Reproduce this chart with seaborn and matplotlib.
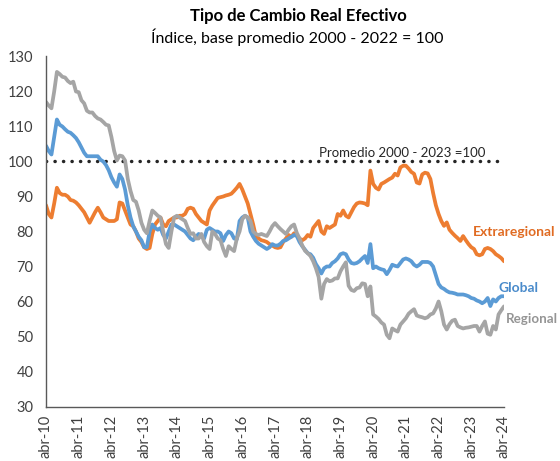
import matplotlib
matplotlib.use("Agg")
import matplotlib.pyplot as plt
import numpy as np
import pandas as pd
import seaborn as sns

# Monthly real effective exchange rate indices, Apr-2010 .. Apr-2024
global_idx = [
    104.5, 103, 102, 107, 112, 110.5, 110, 109.2, 108.5, 108.2, 107.5, 106.7,
    105.5, 104, 102.5, 101.5, 101.5, 101.5, 101.5, 101.5, 100.5, 100, 99, 97.5,
    95.5, 94, 92.8, 96.3, 95, 92, 87.5, 84, 81.5, 80, 78.5, 77.5,
    75.5, 75.5, 80, 82, 81, 80.5, 81, 79, 78, 80, 82, 82,
    81.5, 81, 80.5, 80, 79, 78, 77.5, 78.5, 79.3, 78.5, 78, 80.5,
    81, 80.5, 80, 80, 79.5, 77.3, 79, 80, 79.5, 78, 77.8, 83,
    84, 84.5, 84, 80, 78.5, 77.3, 76.5, 76, 75.5, 75, 75.5, 76.4,
    76, 76, 76.5, 77.3, 77.5, 78, 78.5, 79, 78.7, 77, 75.8, 74.8,
    73.8, 73.5, 72.5, 70.7, 69.5, 68, 69.5, 70, 70, 71, 71.5, 72.3,
    73.5, 73.8, 73.5, 72, 71, 70.8, 71, 71.5, 72.3, 73, 71, 76.4,
    69.5, 70, 69.5, 69.2, 69, 67.8, 69, 70.5, 70.2, 70, 71, 72,
    72.3, 72, 71.5, 70.5, 70, 70.5, 71.3, 71.3, 71.3, 71, 70, 67.5,
    65, 64, 63.6, 63, 62.6, 62.5, 62.3, 62, 62, 62, 61.8, 61.5,
    61, 60.8, 60.3, 60, 59.5, 60, 61, 58.7, 60.6, 60, 61, 61.5,
    61.5,
]

extraregional_idx = [
    87.5, 85, 84, 88, 92.5, 91, 90.5, 90.5, 90, 89, 88.8, 88.3,
    87.5, 86.5, 85.5, 84, 82.5, 84, 85.5, 86.8, 85.5, 84, 83.5, 83,
    83, 83, 83.5, 88.3, 88, 86, 84, 82, 81.5, 80, 78, 77,
    75.5, 75, 75.3, 79.3, 82, 83, 84, 82, 81.5, 83, 83.5, 84,
    84, 84.5, 84.5, 85, 86.5, 86.8, 86.5, 85, 84, 83, 82.5, 82,
    86, 87.4, 88.5, 89.6, 89.8, 90, 90.3, 90.5, 90.8, 91.6, 92.5, 93.6,
    92, 90, 88, 85, 82, 78.5, 78, 77.5, 77.3, 77, 76.4, 76,
    75.5, 75.3, 75.5, 77, 78, 79, 78.5, 79.5, 79, 78, 77.5, 78,
    79, 78.5, 81, 82, 83, 80, 79.3, 81.5, 81, 81.5, 82, 85,
    84.5, 86, 84.5, 84, 85.5, 87, 88, 88.3, 88.2, 88, 87.5, 97.4,
    93.6, 92.5, 92, 93.6, 94, 94.5, 95, 95.4, 96.5, 96, 98.3, 98.8,
    98.8, 98, 97, 96.5, 94, 93.7, 96.3, 96.8, 96.6, 95, 91, 87.5,
    85, 83, 81.6, 82.6, 80.5, 79.6, 78.8, 78.1, 77.3, 78.7, 77.5, 76.4,
    75.5, 75, 73.5, 73.2, 73.5, 75, 75.3, 75, 74.4, 73.5, 73, 72.4,
    71.5,
]

regional_idx = [
    117, 116, 115.2, 120, 125.6, 125, 124.2, 124, 123, 122.4, 122.8, 120,
    119.8, 117.5, 116.6, 114.5, 114, 114, 113, 112.3, 112, 111.3, 110.5, 110.3,
    107, 103, 100.3, 101.7, 101.5, 100.3, 95, 91.6, 89, 88.5, 86, 82.5,
    80.5, 79.5, 83, 86, 85.3, 84.5, 84, 80, 76.4, 75.3, 80, 84,
    84.5, 84, 83.5, 83, 81, 79.3, 79.5, 78, 78, 79.3, 77, 75.8,
    75, 80, 79.3, 78, 77.5, 75, 73, 75.8, 75, 74.4, 78, 80,
    83.5, 84.5, 84, 83, 80, 79.3, 79, 79.3, 79, 78.7, 80, 81.5,
    82.4, 81.5, 80.7, 80, 79.3, 80.5, 81.5, 82, 79.6, 78, 76, 74.5,
    73.8, 73, 71.5, 69.5, 67, 60.8, 65, 66.4, 65.8, 66, 66.6, 66.6,
    68.6, 70, 71.2, 64.5, 63.3, 63, 63.8, 64, 65.2, 65, 61.5, 64.3,
    56.3, 55.7, 55, 54, 53.4, 50.5, 49.5, 52.3, 51.8, 51.4, 53.4, 54.3,
    55.2, 56.5, 57.2, 57.8, 56, 55.7, 55.5, 55.2, 55.5, 56.3, 56.6, 58,
    60, 57.2, 53.4, 52, 53.5, 54.5, 54.8, 53, 52.6, 52.3, 52.5, 52.6,
    52.8, 53, 53, 51.4, 53, 54.3, 50.8, 50.5, 53, 52, 56.3, 57.5,
    58.6,
]

tick_labels = ["abr-10", "abr-11", "abr-12", "abr-13", "abr-14", "abr-15",
               "abr-16", "abr-17", "abr-18", "abr-19", "abr-20", "abr-21",
               "abr-22", "abr-23", "abr-24"]

series_names = ["Extraregional", "Global", "Regional"]
reference_level = 100

months = np.arange(len(global_idx))
df = pd.concat([
    pd.DataFrame({"mes": months, "serie": "Extraregional", "valor": extraregional_idx}),
    pd.DataFrame({"mes": months, "serie": "Global", "valor": global_idx}),
    pd.DataFrame({"mes": months, "serie": "Regional", "valor": regional_idx}),
])

sns.set_style("white")
plt.rcParams["font.family"] = ["Lato", "DejaVu Sans"]

line_colors = {"Extraregional": "#ED7D31", "Global": "#5B9BD5", "Regional": "#A5A5A5"}
label_colors = {"Extraregional": "#E06B22", "Global": "#4A8BCB", "Regional": "#959595"}
text_color = "#404040"

fig = plt.figure(figsize=(5.6, 4.61), dpi=100)
ax = fig.add_axes([46 / 560, 1 - 406.5 / 461, (504 - 46) / 560, (406.5 - 56.5) / 461])

sns.lineplot(data=df, x="mes", y="valor", hue="serie", hue_order=series_names,
             palette=line_colors, linewidth=2.7, legend=False, ax=ax)

# Long-run average reference
ax.axhline(reference_level, color="#262626", linewidth=2.5,
           linestyle=(0, (0.05, 2.4)), dash_capstyle="round", zorder=1)
ax.text(100, reference_level + 0.8, "Promedio 2000 - 2023 =100",
        fontsize=9.5, color="#262626", ha="left", va="bottom")

ax.set_xlim(0, len(months) - 1)
ax.set_ylim(30, 130)
ax.set_xticks(np.arange(0, len(months), 12))
ax.set_xticklabels(tick_labels, rotation=90)
ax.set_yticks(np.arange(30, 131, 10))
ax.set_xlabel("")
ax.set_ylabel("")
ax.tick_params(axis="both", length=0, labelsize=10.5, colors=text_color)
ax.tick_params(axis="y", pad=9)
ax.tick_params(axis="x", pad=6)
for side in ["top", "right"]:
    ax.spines[side].set_visible(False)
for side in ["left", "bottom"]:
    ax.spines[side].set_color("#595959")
    ax.spines[side].set_linewidth(1.0)

# Series labels next to line ends
ax.text(156.6, 79.9, "Extraregional", color=label_colors["Extraregional"],
        fontsize=10, fontweight="bold", va="center", ha="left", clip_on=False)
ax.text(165.8, 64.0, "Global", color=label_colors["Global"],
        fontsize=10, fontweight="bold", va="center", ha="left", clip_on=False)
ax.text(168.6, 55.1, "Regional", color=label_colors["Regional"],
        fontsize=9.6, fontweight="bold", va="center", ha="left", clip_on=False)

fig.text(298 / 560, 1 - 16 / 461, "Tipo de Cambio Real Efectivo", ha="center",
         va="center", fontsize=12, fontweight="bold", color="#000000")
fig.text(297 / 560, 1 - 37 / 461, "Índice, base promedio 2000 - 2022 = 100",
         ha="center", va="center", fontsize=11.5, color="#000000")

fig.savefig("out.png", dpi=100)
